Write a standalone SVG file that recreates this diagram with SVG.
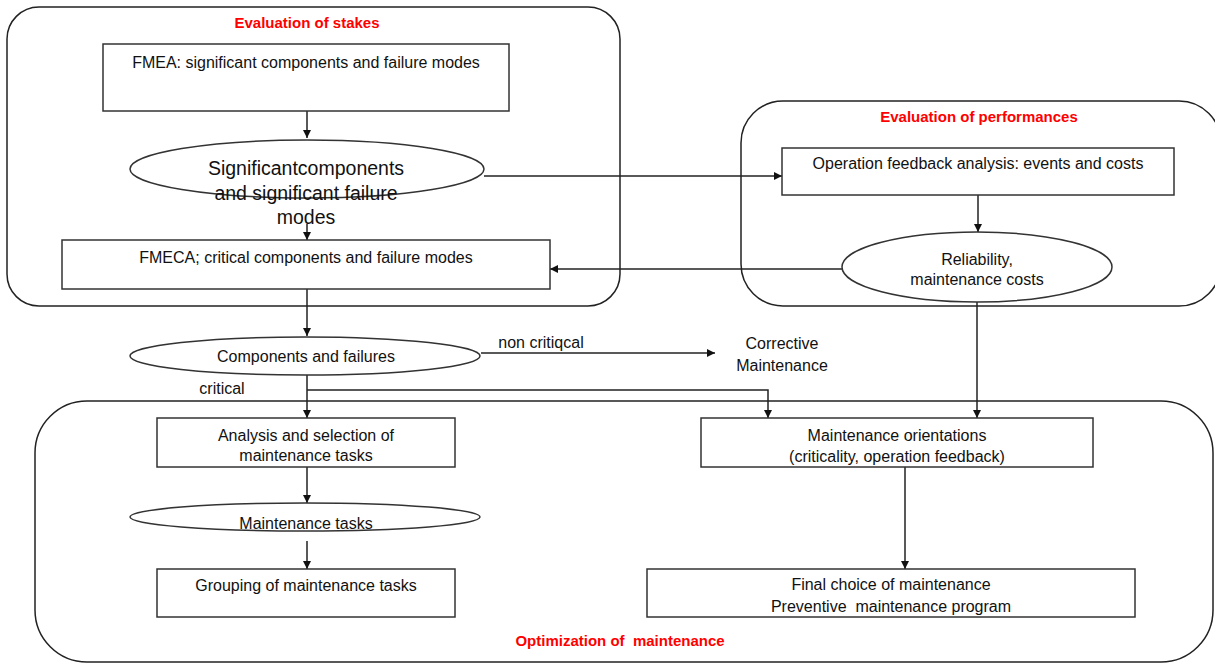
<svg xmlns="http://www.w3.org/2000/svg" width="1215" height="664" viewBox="0 0 1215 664">
<style>
.box{fill:#fff;stroke:#333;stroke-width:1.5}
.cont{fill:none;stroke:#222;stroke-width:1.5}
.t{font-family:"Liberation Sans",Arial,sans-serif;font-size:16px;fill:#111;text-anchor:middle;white-space:pre}
.big{font-size:19.5px}
.title{font-family:"Liberation Sans",Arial,sans-serif;font-size:15px;font-weight:bold;fill:#f00;text-anchor:middle;white-space:pre}
.c{fill:none;stroke:#222;stroke-width:1.5}
</style>
<defs>
<marker id="ah" viewBox="0 0 10 10" refX="10" refY="5" markerWidth="8" markerHeight="8" markerUnits="userSpaceOnUse" orient="auto">
<path d="M0,0 L10,5 L0,10 z" fill="#111"/>
</marker>
</defs>
<rect width="1215" height="664" fill="#fff"/>
<g id="stakes">
<rect class="cont" x="7" y="7" width="613" height="299" rx="32"/>
<text class="title" x="307" y="28">Evaluation of stakes</text>
</g>
<g id="performances">
<rect class="cont" x="741" y="101" width="480" height="205" rx="42"/>
<text class="title" x="979" y="122">Evaluation of performances</text>
</g>
<g id="optimization">
<rect class="cont" x="35" y="401" width="1178" height="261" rx="52"/>
<text class="title" x="620" y="646" xml:space="preserve">Optimization of  maintenance</text>
</g>
<g id="connectors">
<line class="c" x1="307" y1="111" x2="307" y2="138" marker-end="url(#ah)"/>
<line class="c" x1="307" y1="224" x2="307" y2="240" marker-end="url(#ah)"/>
<line class="c" x1="484" y1="176" x2="782" y2="176" marker-end="url(#ah)"/>
<line class="c" x1="978" y1="195" x2="978" y2="232" marker-end="url(#ah)"/>
<line class="c" x1="842" y1="269" x2="550" y2="269" marker-end="url(#ah)"/>
<line class="c" x1="307" y1="289" x2="307" y2="336" marker-end="url(#ah)"/>
<line class="c" x1="481" y1="353" x2="715" y2="353" marker-end="url(#ah)"/>
<line class="c" x1="307" y1="374" x2="307" y2="418" marker-end="url(#ah)"/>
<polyline class="c" points="307,390 768,390 768,418" marker-end="url(#ah)"/>
<line class="c" x1="977" y1="302" x2="977" y2="418" marker-end="url(#ah)"/>
<line class="c" x1="307" y1="467" x2="307" y2="503" marker-end="url(#ah)"/>
<line class="c" x1="307" y1="541" x2="307" y2="569" marker-end="url(#ah)"/>
<line class="c" x1="905" y1="467" x2="905" y2="569" marker-end="url(#ah)"/>
<text class="t" x="541" y="348">non critiqcal</text>
<text class="t" x="222" y="394">critical</text>
</g>
<g id="fmea">
<rect class="box" x="103" y="44" width="406" height="67"/>
<text class="t" x="306" y="68">FMEA: significant components and failure modes</text>
</g>
<g id="significant">
<ellipse class="box" cx="307" cy="169" rx="177" ry="29"/>
<text class="t big" x="306" y="175">Significantcomponents</text>
<text class="t big" x="306" y="200">and significant failure</text>
<text class="t big" x="306" y="224">modes</text>
</g>
<g id="fmeca">
<rect class="box" x="62" y="240" width="488" height="49"/>
<text class="t" x="306" y="263">FMECA; critical components and failure modes</text>
</g>
<g id="opfeedback">
<rect class="box" x="782" y="148" width="392" height="47"/>
<text class="t" x="978" y="169">Operation feedback analysis: events and costs</text>
</g>
<g id="reliability">
<ellipse class="box" cx="977" cy="267" rx="135" ry="35"/>
<text class="t" x="977" y="265">Reliability,</text>
<text class="t" x="977" y="285">maintenance costs</text>
</g>
<g id="components">
<ellipse class="box" cx="305" cy="356" rx="175" ry="19"/>
<text class="t" x="306" y="362">Components and failures</text>
</g>
<g id="corrective">
<text class="t" x="782" y="349">Corrective</text>
<text class="t" x="782" y="371">Maintenance</text>
</g>
<g id="analysis">
<rect class="box" x="157" y="418" width="298" height="49"/>
<text class="t" x="306" y="441">Analysis and selection of</text>
<text class="t" x="306" y="461">maintenance tasks</text>
</g>
<g id="tasks">
<ellipse class="box" cx="305" cy="517" rx="175" ry="14"/>
<text class="t" x="306" y="529">Maintenance tasks</text>
</g>
<g id="grouping">
<rect class="box" x="157" y="569" width="298" height="48"/>
<text class="t" x="306" y="591">Grouping of maintenance tasks</text>
</g>
<g id="orientations">
<rect class="box" x="701" y="418" width="392" height="49"/>
<text class="t" x="897" y="441">Maintenance orientations</text>
<text class="t" x="897" y="462">(criticality, operation feedback)</text>
</g>
<g id="final">
<rect class="box" x="647" y="569" width="488" height="48"/>
<text class="t" x="891" y="590">Final choice of maintenance</text>
<text class="t" x="891" y="612" xml:space="preserve">Preventive  maintenance program</text>
</g>
</svg>
